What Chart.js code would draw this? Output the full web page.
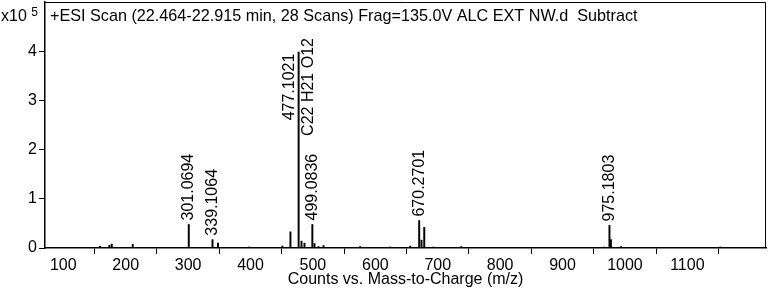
<!DOCTYPE html>
<html>
<head>
<meta charset="utf-8">
<script src="https://cdn.jsdelivr.net/npm/chart.js@4.4.1/dist/chart.umd.min.js"></script>
<style>
html,body{margin:0;padding:0;background:#fff;}
#wrap{width:769px;height:290px;position:relative;}
</style>
</head>
<body>
<div id="wrap"><canvas id="c" width="769" height="290"></canvas></div>
<script>
// ---- data ----
const titleText = '+ESI Scan (22.464-22.915 min, 28 Scans) Frag=135.0V ALC EXT NW.d  Subtract';
const xAxisTitle = 'Counts vs. Mass-to-Charge (m/z)';
const yMultiplierText = 'x10';
const yMultiplierExp = '5';

// peak m/z values and intensities (in units of 10^5 counts)
const peakMz = [158.9, 173.8, 177.6, 211.3, 301.0694, 339.1064, 347.9, 397.8, 451.0, 464.0,
                477.1021, 481.7, 486.5, 499.0836, 502.5, 509.0, 517.0, 575.8, 623.9, 656.0,
                670.2701, 674.0, 678.4, 693.0, 737.7, 966.4, 975.1803, 977.5, 993.9, 1153.0];
const peakIntensity = [0.035, 0.055, 0.08, 0.075, 0.48, 0.17, 0.10, 0.02, 0.04, 0.33,
                       4.00, 0.14, 0.10, 0.48, 0.09, 0.03, 0.05, 0.03, 0.02, 0.04,
                       0.56, 0.16, 0.42, 0.02, 0.03, 0.02, 0.46, 0.17, 0.03, 0.02];

const labeledMz = [301.0694, 339.1064, 477.1021, 499.0836, 670.2701, 975.1803];
const labelLines = [['301.0694'], ['339.1064'], ['477.1021', 'C22 H21 O12'], ['499.0836'], ['670.2701'], ['975.1803']];

const xTicks = [100, 200, 300, 400, 500, 600, 700, 800, 900, 1000, 1100, 1200];
const xTickLabels = ['100', '200', '300', '400', '500', '600', '700', '800', '900', '1000', '1100', ''];
const yTicks = [0, 1, 2, 3, 4];
const yTickLabels = ['0', '1', '2', '3', '4'];
const xRange = [70.7, 1226];
const yRange = [0, 5.02];

// ---- chart ----
const FONT = '"Liberation Sans", Arial, Helvetica, sans-serif';
Chart.defaults.font.family = FONT;
Chart.defaults.color = '#000';

const points = peakMz.map((m, i) => ({x: m, y: peakIntensity[i]}));

const framePlugin = {
  id: 'frame',
  afterDraw(chart) {
    const {ctx, chartArea: a, scales} = chart;
    ctx.save();
    ctx.strokeStyle = '#000';
    ctx.lineWidth = 1;
    ctx.beginPath();
    ctx.moveTo(a.left, a.top + 0.5);
    ctx.lineTo(a.right - 0.5, a.top + 0.5);
    ctx.lineTo(a.right - 0.5, a.bottom);
    ctx.stroke();

    // title inside plot
    ctx.fillStyle = '#000';
    ctx.font = '16.2px ' + FONT;
    ctx.textAlign = 'left';
    ctx.textBaseline = 'alphabetic';
    ctx.fillText(titleText, a.left + 5, 21);

    // multiplier
    ctx.font = '16px ' + FONT;
    ctx.fillText(yMultiplierText, 1, 21);
    const w = ctx.measureText(yMultiplierText + ' ').width;
    ctx.font = '12px ' + FONT;
    ctx.fillText(yMultiplierExp, 1 + w, 16);

    // peak labels
    const xs = scales.x, ys = scales.y;
    ctx.font = '16px ' + FONT;
    const lh = 19;
    labeledMz.forEach((m, i) => {
      const idx = peakMz.indexOf(m);
      const px = xs.getPixelForValue(m);
      const py = ys.getPixelForValue(peakIntensity[idx]);
      const lines = labelLines[i];
      const maxW = Math.max(...lines.map(t => ctx.measureText(t).width));
      if (lines.length === 1 && py - 4 - maxW > a.top) {
        ctx.save();
        ctx.translate(px, py - 4);
        ctx.rotate(-Math.PI / 2);
        ctx.textAlign = 'left';
        ctx.textBaseline = 'middle';
        ctx.fillText(lines[0], 0, 0);
        ctx.restore();
      } else {
        const cy = py + 35;
        lines.forEach((t, j) => {
          const off = (j - (lines.length - 1) / 2) * lh;
          ctx.save();
          ctx.translate(px + off, cy);
          ctx.rotate(-Math.PI / 2);
          ctx.textAlign = 'center';
          ctx.textBaseline = 'middle';
          ctx.fillText(t, 0, 0);
          ctx.restore();
        });
      }
    });
    ctx.restore();
  }
};

new Chart(document.getElementById('c'), {
  type: 'bar',
  data: {
    datasets: [{
      data: points,
      backgroundColor: '#000',
      borderWidth: 0,
      barThickness: 1.3
    }]
  },
  options: {
    responsive: false,
    animation: false,
    events: [],
    layout: {padding: {top: 2, right: 3, bottom: 0, left: 0}},
    plugins: {legend: {display: false}, tooltip: {enabled: false}, title: {display: false}},
    scales: {
      x: {
        type: 'linear',
        min: xRange[0],
        max: xRange[1],
        offset: false,
        afterBuildTicks: s => { s.ticks = xTicks.map(v => ({value: v})); },
        afterFit: s => { s.height = 42; s.paddingLeft = 0; s.paddingRight = 0; },
        ticks: {
          autoSkip: false,
          maxRotation: 0,
          padding: 2,
          font: {size: 16},
          color: '#000',
          callback: (v, i) => xTickLabels[i]
        },
        grid: {display: true, drawOnChartArea: false, drawTicks: true, tickLength: 6, color: '#000', lineWidth: 1},
        border: {display: true, color: '#000', width: 1.5},
        title: {display: true, text: xAxisTitle, font: {size: 16}, color: '#000', padding: {top: 0, bottom: 1}}
      },
      y: {
        type: 'linear',
        min: yRange[0],
        max: yRange[1],
        afterBuildTicks: s => { s.ticks = yTicks.map(v => ({value: v})); },
        afterFit: s => { s.width = 45; s.paddingTop = 0; s.paddingBottom = 0; },
        ticks: {
          padding: 2,
          font: {size: 16},
          color: '#000',
          callback: (v, i) => yTickLabels[i]
        },
        grid: {display: true, drawOnChartArea: false, drawTicks: true, tickLength: 6, color: '#000', lineWidth: 1},
        border: {display: true, color: '#000', width: 1.5}
      }
    }
  },
  plugins: [framePlugin]
});
</script>
</body>
</html>
